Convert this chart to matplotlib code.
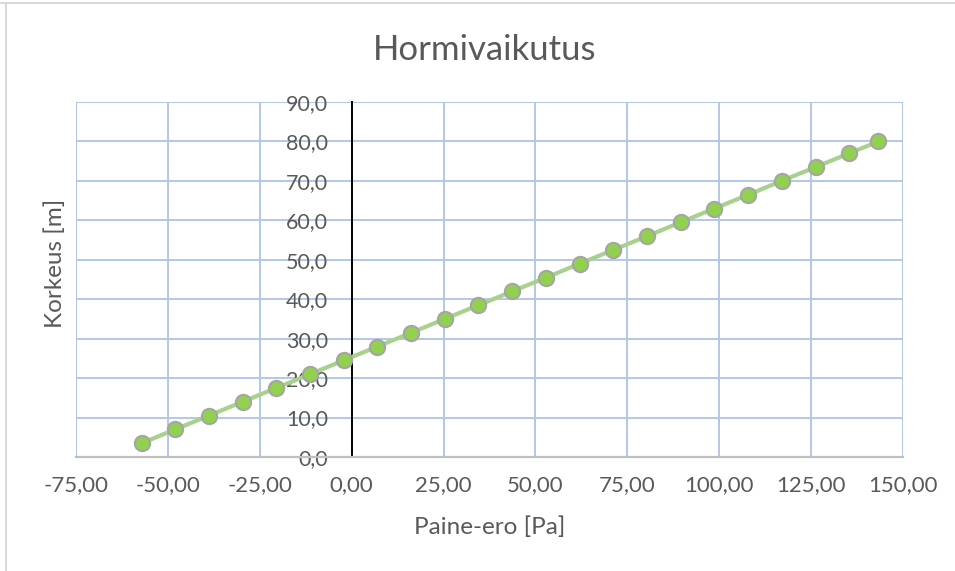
import matplotlib
matplotlib.use('Agg')
import matplotlib.pyplot as plt
from matplotlib.lines import Line2D

plt.rcParams['font.family'] = ['Lato', 'DejaVu Sans']

# paine-ero [Pa] ja korkeus [m], luettu kuvasta
paine_ero = [-57.1, -48.0, -38.8, -29.7, -20.5, -11.3, -2.2, 7.0, 16.2, 25.3,
             34.5, 43.7, 52.9, 62.0, 71.2, 80.4, 89.5, 98.7, 107.9, 117.0,
             126.2, 135.4, 143.3]
korkeus = [3.5, 7.0, 10.5, 14.0, 17.5, 21.0, 24.5, 28.0, 31.5, 35.0,
           38.5, 42.0, 45.5, 49.0, 52.5, 56.0, 59.5, 63.0, 66.5, 70.0,
           73.5, 77.0, 80.0]
x_ticks = [-75, -50, -25, 0, 25, 50, 75, 100, 125, 150]
y_ticks = [0, 10, 20, 30, 40, 50, 60, 70, 80, 90]

txt = '#595959'
W, H = 955, 571

fig = plt.figure(figsize=(W / 100, H / 100), dpi=100)
ax = fig.add_axes([76 / W, 1 - 457 / H, (903 - 76) / W, (457 - 102) / H])

ax.plot(paine_ero, korkeus, color='#a9d18e', lw=3, marker='o', ms=11,
        mfc='#92d050', mec='#a5a5a5', mew=1.5, zorder=5, clip_on=False)

ax.set_xlim(-75, 150)
ax.set_ylim(0, 90)
ax.set_xticks(x_ticks)
ax.set_yticks(y_ticks)
ax.set_xticklabels(['{:.2f}'.format(v).replace('.', ',') for v in x_ticks])
ax.set_yticklabels(['{:.1f}'.format(v).replace('.', ',') for v in y_ticks])

ax.grid(True, color='#b4c7e7', lw=1.4)
ax.set_axisbelow(True)
for s in ['top', 'right']:
    ax.spines[s].set_visible(False)
ax.spines['bottom'].set_color('#bfbfbf')
ax.spines['bottom'].set_linewidth(1.6)
ax.spines['left'].set_position(('data', 0))
ax.spines['left'].set_color('black')
ax.spines['left'].set_linewidth(1.4)
ax.tick_params(axis='x', length=0, labelsize=16, labelcolor=txt, pad=13)
ax.tick_params(axis='y', length=0, labelsize=15.5, labelcolor=txt, pad=17)

fig.text(485 / W, 1 - 60 / H, 'Hormivaikutus', ha='center', va='baseline',
         fontsize=25, color=txt)
fig.text(490 / W, 1 - 527 / H, 'Paine-ero [Pa]', ha='center', va='center',
         fontsize=17.5, color=txt)
fig.text(55 / W, 1 - 263 / H, 'Korkeus [m]', ha='center', va='center',
         rotation=90, fontsize=17.5, color=txt)

# kaavion reunaviivat
fig.add_artist(Line2D([0, 1], [1 - 3 / H, 1 - 3 / H], color='#d9d9d9', lw=1.5))
fig.add_artist(Line2D([6 / W, 6 / W], [0, 1 - 3 / H], color='#d9d9d9', lw=1.5))

fig.savefig('out.png', dpi=100)
